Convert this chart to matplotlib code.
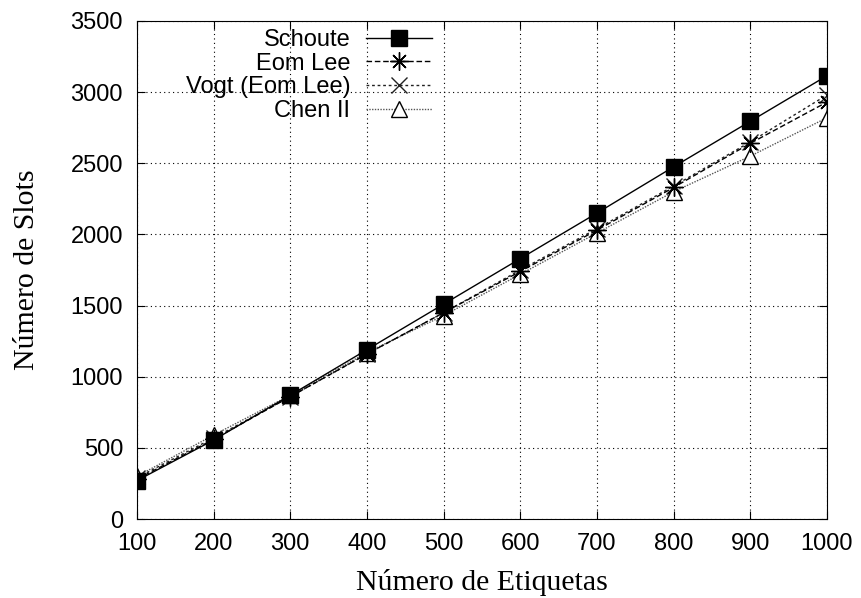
import numpy as np
import matplotlib
matplotlib.use('Agg')
import matplotlib.pyplot as plt

etiquetas = [100, 200, 300, 400, 500, 600, 700, 800, 900, 1000]
schoute = [270, 555, 870, 1190, 1510, 1830, 2150, 2475, 2795, 3115]
eom_lee = [280, 560, 860, 1160, 1450, 1740, 2030, 2330, 2640, 2930]
vogt = [290, 570, 860, 1160, 1450, 1750, 2040, 2340, 2650, 2980]
chen = [300, 590, 870, 1170, 1430, 1720, 2010, 2300, 2550, 2820]

sans = ['Liberation Sans', 'DejaVu Sans']
serif = ['Liberation Serif', 'DejaVu Serif']

fig = plt.figure(figsize=(8.61, 5.98), dpi=100)
ax = fig.add_axes([0.159, 0.132, 0.8015, 0.833])

ax.plot(etiquetas, schoute, color='black', lw=1.0, ls='-',
        marker='s', ms=11.5, label='Schoute', zorder=5)
ax.plot(etiquetas, eom_lee, color='black', lw=1.0, ls=(0, (4, 2)),
        marker=(8, 2, 0), ms=13, mew=1.0, label='Eom Lee', zorder=4)
ax.plot(etiquetas, vogt, color='#222222', lw=1.0, ls=(0, (2, 2)),
        marker='x', ms=11, mew=1.0, label='Vogt (Eom Lee)', zorder=3)
ax.plot(etiquetas, chen, color='#555555', lw=1.0, ls=(0, (1, 1)),
        marker='^', ms=11, mfc='white', mec='black', mew=1.0, label='Chen II', zorder=2)

ax.set_xlim(100, 1000)
ax.set_ylim(0, 3500)
ax.set_xticks(etiquetas)
ax.set_yticks(np.arange(0, 3501, 500))
ax.grid(True, color='black', ls=(0, (1, 3)), lw=0.8)
ax.tick_params(direction='in', length=5.5, top=True, right=True, labelsize=17)
ax.tick_params(axis='x', pad=10)
ax.tick_params(axis='y', pad=10)
for lab in ax.get_xticklabels() + ax.get_yticklabels():
    lab.set_family(sans)

ax.set_xlabel('Número de Etiquetas', family=serif, fontsize=21.5, labelpad=10)
ax.set_ylabel('Número de Slots', family=serif, fontsize=21.5, labelpad=22)

leg = ax.legend(loc='upper right', bbox_to_anchor=(0.4275, 0.984), frameon=False,
                markerfirst=False, handlelength=2.8, handletextpad=0.65,
                labelspacing=0.07, borderpad=0, borderaxespad=0,
                prop={'family': sans, 'size': 17})
leg._legend_box.align = 'right'

fig.savefig('out.png', dpi=100)
